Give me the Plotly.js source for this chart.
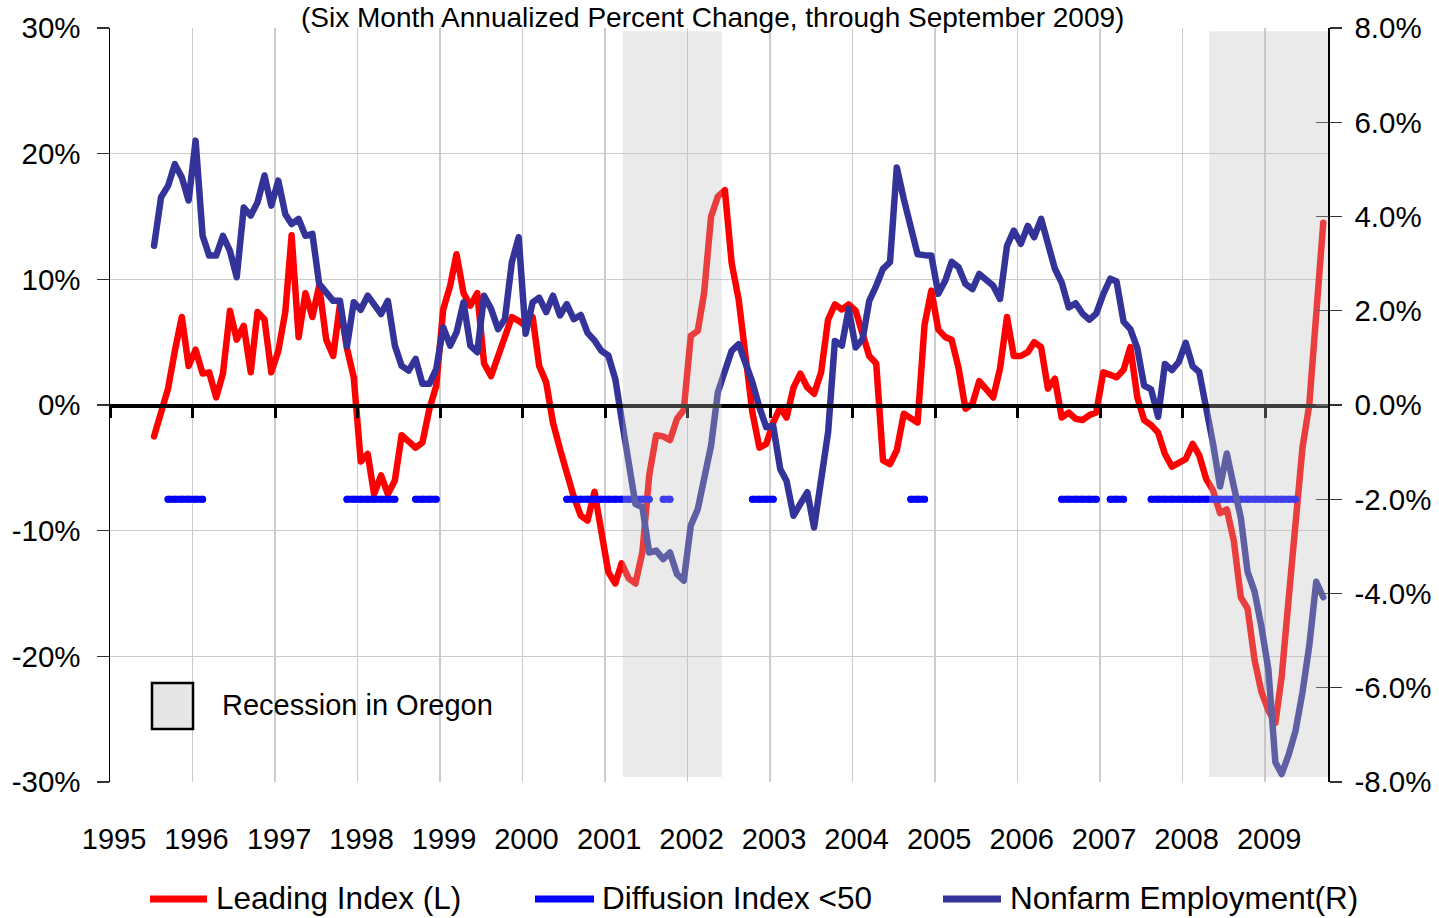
<!DOCTYPE html>
<html>
<head>
<meta charset="utf-8">
<script src="https://cdn.plot.ly/plotly-3.0.1.min.js"></script>
<style>
  html, body { margin: 0; padding: 0; background: #ffffff; }
  #chart { width: 1439px; height: 918px; }
  .scatterlayer .js-line { stroke-linecap: round !important; stroke-linejoin: round !important; }
</style>
</head>
<body>
<div id="chart"></div>
<script>
// ---------------- DATA ----------------
// Monthly series, July 1995 through September 2009
const firstMonth = "1995-07";
const titleText = "(Six Month Annualized Percent Change, through September 2009)";
const seriesNames = ["Leading Index (L)", "Diffusion Index <50", "Nonfarm Employment(R)"];
const recessionLabel = "Recession in Oregon";

// Axis tick values and labels
const leftTickVals = [-30, -20, -10, 0, 10, 20, 30];
const leftTickLabels = ["-30%", "-20%", "-10%", "0%", "10%", "20%", "30%"];
const rightTickVals = [-8, -6, -4, -2, 0, 2, 4, 6, 8];
const rightTickLabels = ["-8.0%", "-6.0%", "-4.0%", "-2.0%", "0.0%", "2.0%", "4.0%", "6.0%", "8.0%"];

// Leading Index, six-month annualized % change (left axis)
const leadingIndex = [
  -2.5, -0.6, 1.3, 4.3, 7.0, 3.1,                        // 1995 Jul-Dec
  4.4, 2.5, 2.6, 0.6, 2.5, 7.5, 5.2, 6.3, 2.6, 7.4, 6.8, 2.6,   // 1996
  4.3, 7.4, 13.5, 5.4, 8.9, 7.0, 9.5, 5.2, 3.9, 8.0, 4.5, 2.2,  // 1997
  -4.5, -3.9, -7.1, -5.6, -7.1, -6.0, -2.4, -2.9, -3.4, -3.0, -0.3, 1.5, // 1998
  7.6, 9.5, 12.0, 8.9, 7.9, 8.9, 3.3, 2.3, 3.9, 5.5, 7.0, 6.7,  // 1999
  6.3, 7.0, 3.1, 1.8, -1.4, -3.5, -5.6, -7.3, -8.8, -9.2, -6.9, -9.8, // 2000
  -13.3, -14.2, -12.6, -13.8, -14.2, -11.7, -5.6, -2.4, -2.5, -2.8, -1.1, -0.4, // 2001
  5.5, 5.9, 8.9, 15.0, 16.6, 17.1, 11.3, 8.4, 3.8, -0.6, -3.4, -3.1, // 2002
  -1.4, -0.2, -1.0, 1.4, 2.5, 1.4, 0.9, 2.6, 6.8, 8.0, 7.6, 8.0,     // 2003
  7.5, 5.5, 3.9, 3.3, -4.4, -4.7, -3.6, -0.7, -1.0, -1.4, 6.4, 9.1,  // 2004
  6.0, 5.4, 5.2, 2.9, -0.3, 0.1, 1.9, 1.2, 0.6, 2.9, 7.0, 3.9,       // 2005
  3.9, 4.2, 5.0, 4.6, 1.3, 2.1, -1.0, -0.6, -1.1, -1.2, -0.8, -0.6,  // 2006
  2.6, 2.4, 2.2, 2.8, 4.6, 0.6, -1.2, -1.6, -2.2, -3.9, -4.9, -4.6,  // 2007
  -4.3, -3.1, -4.0, -5.9, -6.8, -8.6, -8.3, -10.8, -15.3, -16.2, -20.3, -22.8, // 2008
  -24.3, -25.3, -21.6, -15.4, -8.9, -3.4, 0.0, 7.5, 14.5             // 2009 Jan-Sep
];

// Nonfarm Employment, six-month annualized % change (right axis)
const nonfarmEmployment = [
  3.38, 4.41, 4.65, 5.11, 4.83, 4.34,                                 // 1995 Jul-Dec
  5.61, 3.59, 3.17, 3.17, 3.59, 3.27, 2.71, 4.19, 4.02, 4.30, 4.87, 4.23, // 1996
  4.76, 4.05, 3.84, 3.95, 3.59, 3.63, 2.57, 2.39, 2.21, 2.21, 1.24, 2.18, // 1997
  2.02, 2.32, 2.14, 1.93, 2.21, 1.26, 0.83, 0.73, 0.98, 0.45, 0.45, 0.76, // 1998
  1.65, 1.26, 1.54, 2.18, 1.26, 1.12, 2.32, 2.04, 1.61, 1.82, 3.03, 3.56, // 1999
  1.51, 2.18, 2.28, 1.97, 2.32, 1.90, 2.14, 1.82, 1.91, 1.53, 1.37, 1.15, // 2000
  1.05, 0.55, -0.30, -1.22, -2.10, -2.17, -3.13, -3.09, -3.27, -3.13, -3.59, -3.73, // 2001
  -2.56, -2.21, -1.57, -0.86, 0.27, 0.69, 1.15, 1.29, 0.91, 0.48, -0.05, -0.47, // 2002
  -0.44, -1.36, -1.61, -2.35, -2.10, -1.85, -2.60, -1.60, -0.58, 1.36, 1.26, 2.04, // 2003
  1.22, 1.40, 2.21, 2.53, 2.89, 3.03, 5.04, 4.37, 3.77, 3.20, 3.18, 3.17, // 2004
  2.36, 2.64, 3.04, 2.92, 2.57, 2.46, 2.78, 2.64, 2.53, 2.25, 3.38, 3.70, // 2005
  3.42, 3.80, 3.56, 3.95, 3.45, 2.89, 2.60, 2.07, 2.16, 1.94, 1.81, 1.94, // 2006
  2.35, 2.68, 2.62, 1.77, 1.61, 1.20, 0.41, 0.33, -0.25, 0.87, 0.74, 0.91, // 2007
  1.32, 0.82, 0.70, 0.00, -0.82, -1.73, -1.03, -1.73, -2.39, -3.54, -3.96, -4.70, // 2008
  -5.61, -7.58, -7.83, -7.42, -6.92, -6.10, -5.11, -3.75, -4.08      // 2009 Jan-Sep
];

// Months in which the Diffusion Index was below 50 (start, end inclusive)
const diffusionBelow50 = [
  ["1995-09", "1996-02"], ["1997-11", "1998-06"], ["1998-09", "1998-12"],
  ["2000-07", "2001-07"], ["2001-09", "2001-10"], ["2002-10", "2003-01"],
  ["2004-09", "2004-11"], ["2006-07", "2006-12"], ["2007-02", "2007-04"],
  ["2007-08", "2009-05"]
];
const diffusionLevel = -2.0;   // drawn at -2.0% on the right axis

// Oregon recessions
const recessions = [["2001-03-20", "2002-06-01"], ["2008-04-28", "2009-10-06"]];

// ---------------- BUILD ----------------
function monthList(start, n) {
  const [y0, m0] = start.split("-").map(Number);
  const out = [];
  for (let i = 0; i < n; i++) {
    const t = (m0 - 1) + i;
    const y = y0 + Math.floor(t / 12);
    const m = (t % 12) + 1;
    out.push(y + "-" + String(m).padStart(2, "0"));
  }
  return out;
}
const monthsYM = monthList(firstMonth, leadingIndex.length);
const months = monthsYM.map(s => s + "-15");
const diffusion = monthsYM.map(ym =>
  diffusionBelow50.some(([a, b]) => ym >= a && ym <= b) ? diffusionLevel : null);

const FONT = "Liberation Sans, Arial, sans-serif";
const RED = "#ff0000", BLUE = "#0000ff", NAVY = "#333399";
const xRange = ["1995-01-01", "2009-10-06"];

// pixel helpers for paper coordinates (plot area: x 110..1328, y 28..782)
const PL = 110, PR = 1328, PT = 28, PB = 782;
const px = x => (x - PL) / (PR - PL);
const py = y => (PB - y) / (PB - PT);

const traces = [
  { x: months, y: leadingIndex, type: "scatter", mode: "lines", name: seriesNames[0],
    line: { color: RED, width: 6.5 }, xaxis: "x", yaxis: "y", showlegend: false },
  { x: months, y: diffusion, type: "scatter", mode: "lines+markers", name: seriesNames[1],
    line: { color: BLUE, width: 7 }, marker: { color: BLUE, size: 7 }, connectgaps: false,
    xaxis: "x", yaxis: "y2", showlegend: false },
  { x: months, y: nonfarmEmployment, type: "scatter", mode: "lines", name: seriesNames[2],
    line: { color: NAVY, width: 6.5 }, xaxis: "x", yaxis: "y2", showlegend: false }
];

const shapes = [];
recessions.forEach(([a, b]) => shapes.push({
  type: "rect", xref: "x", yref: "y", x0: a, x1: b, y0: -29.6, y1: 29.75,
  fillcolor: "rgba(191,191,191,0.32)", line: { width: 0 }, layer: "above"
}));
// recession key box
shapes.push({ type: "rect", xref: "paper", yref: "paper",
  x0: px(152), x1: px(193), y0: py(729), y1: py(683),
  fillcolor: "#e6e6e6", line: { color: "#000000", width: 2.5 } });
// legend line samples
const legendItems = [
  { name: seriesNames[0], color: RED, x0: 150, x1: 207, tx: 214 },
  { name: seriesNames[1], color: BLUE, x0: 535, x1: 594, tx: 600 },
  { name: seriesNames[2], color: NAVY, x0: 943, x1: 1001, tx: 1008 }
];
legendItems.forEach(it => shapes.push({ type: "line", xref: "paper", yref: "paper",
  x0: px(it.x0), x1: px(it.x1), y0: py(899), y1: py(899),
  line: { color: it.color, width: 7 } }));

const annotations = [
  { text: titleText, xref: "paper", yref: "paper", x: px(712), y: py(1),
    xanchor: "center", yanchor: "top", showarrow: false, borderpad: 0,
    font: { family: FONT, size: 28, color: "#000000" } },
  { text: recessionLabel, xref: "paper", yref: "paper", x: px(220), y: py(705),
    xanchor: "left", yanchor: "middle", showarrow: false,
    font: { family: FONT, size: 29, color: "#000000" } }
];
legendItems.forEach(it => annotations.push({ text: it.name, xref: "paper", yref: "paper",
  x: px(it.tx), y: py(898), xanchor: "left", yanchor: "middle", showarrow: false,
  font: { family: FONT, size: 31.5, color: "#000000" } }));

const layout = {
  width: 1439, height: 918,
  margin: { l: PL, r: 1439 - PR, t: PT, b: 918 - PB, pad: 0 },
  paper_bgcolor: "#ffffff", plot_bgcolor: "#ffffff",
  showlegend: false,
  xaxis: {
    type: "date", range: xRange, tick0: "1995-01-01", dtick: "M12", tickformat: "%Y",
    showgrid: true, gridcolor: "#cccccc", gridwidth: 1.5,
    ticks: "", showline: false, zeroline: false,
    tickfont: { family: FONT, size: 29, color: "#000000" },
    ticklabelstandoff: 37, ticklabelshift: 4
  },
  xaxis2: {
    type: "date", range: xRange, tick0: "1995-01-01", dtick: "M12",
    overlaying: "x", anchor: "free", position: 0.5,
    showline: true, linecolor: "#000000", linewidth: 3.5,
    ticks: "outside", ticklen: 10, tickwidth: 3, tickcolor: "#000000",
    showticklabels: false, showgrid: false, zeroline: false
  },
  yaxis: {
    range: [-30, 30], tickmode: "array", tickvals: leftTickVals, ticktext: leftTickLabels,
    showgrid: true, gridcolor: "#cccccc", gridwidth: 1.5, zeroline: false,
    showline: true, linecolor: "#000000", linewidth: 1.5,
    ticks: "outside", ticklen: 12, tickwidth: 1.2, tickcolor: "#333333",
    tickfont: { family: FONT, size: 29.5, color: "#000000" },
    ticklabelstandoff: 10
  },
  yaxis2: {
    range: [-8, 8], tickmode: "array", tickvals: rightTickVals, ticktext: rightTickLabels,
    overlaying: "y", side: "right", anchor: "x",
    showgrid: false, zeroline: false,
    showline: true, linecolor: "#000000", linewidth: 1.5,
    ticks: "outside", ticklen: 12, tickwidth: 1.2, tickcolor: "#333333",
    tickfont: { family: FONT, size: 29.5, color: "#000000" },
    ticklabelstandoff: 7
  },
  yaxis3: {
    range: [-8, 8], tickmode: "array", tickvals: rightTickVals,
    overlaying: "y", side: "right", anchor: "x",
    showgrid: false, zeroline: false, showline: false,
    ticks: "inside", ticklen: 12, tickwidth: 1.2, tickcolor: "#333333",
    showticklabels: false
  },
  shapes: shapes,
  annotations: annotations
};

// invisible helper trace so xaxis2 / yaxis3 are drawn
traces.push({ x: [xRange[0]], y: [0], xaxis: "x2", yaxis: "y3", type: "scatter", mode: "markers",
  marker: { opacity: 0 }, hoverinfo: "skip", showlegend: false });

Plotly.newPlot("chart", traces, layout, { displayModeBar: false, staticPlot: true });
</script>
</body>
</html>
